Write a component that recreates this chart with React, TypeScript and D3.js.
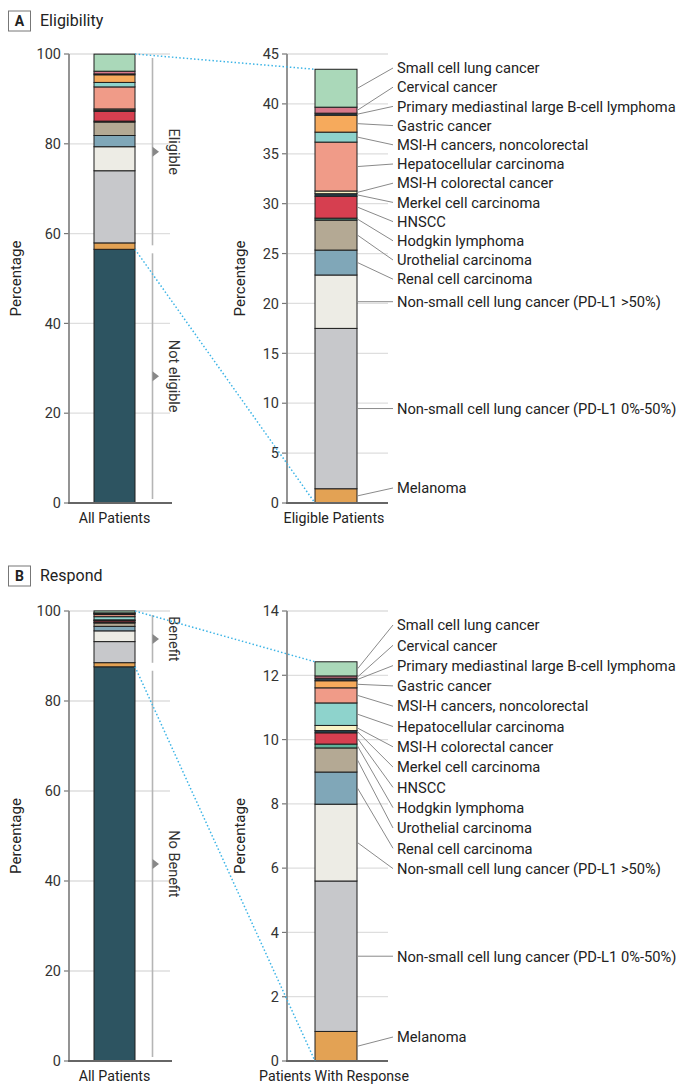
import * as d3 from "d3";

// categories from bottom of the stack to the top
const categories = [
  "Melanoma",
  "Non-small cell lung cancer (PD-L1 0%-50%)",
  "Non-small cell lung cancer (PD-L1 >50%)",
  "Renal cell carcinoma",
  "Urothelial carcinoma",
  "Hodgkin lymphoma",
  "HNSCC",
  "Merkel cell carcinoma",
  "MSI-H colorectal cancer",
  "Hepatocellular carcinoma",
  "MSI-H cancers, noncolorectal",
  "Gastric cancer",
  "Primary mediastinal large B-cell lymphoma",
  "Cervical cancer",
  "Small cell lung cancer",
];

// % of all patients (panel A) – eligible, by tumour type
const eligibleValues = [1.43, 16.07, 5.35, 2.5, 3.0, 0.2, 2.2, 0.25, 0.27, 4.9, 1.0, 1.7, 0.2, 0.6, 3.8];
const notEligible = 56.5;

// % of all patients (panel B) – responders, by tumour type
const responseValues = [0.92, 4.68, 2.39, 1.0, 0.75, 0.12, 0.35, 0.07, 0.16, 0.7, 0.47, 0.22, 0.08, 0.07, 0.44];
const noBenefit = 87.6;

const colorsA = [
  "#e3a254", "#c7c8cb", "#edece5", "#80a7b8", "#b4a994", "#3f8f78", "#d63f50",
  "#25424f", "#fbf3c6", "#f09b88", "#8ed3cc", "#f6aa5c", "#2b3d4a", "#d7798b", "#aad8b9",
];
// in the response panel the salmon / teal pair is swapped in the source figure
const colorsB = [
  "#e3a254", "#c7c8cb", "#edece5", "#80a7b8", "#b4a994", "#5fb39a", "#d63f50",
  "#25424f", "#fbf3c6", "#8ed3cc", "#f09b88", "#f6aa5c", "#2b3d4a", "#d7798b", "#aad8b9",
];
const baseColor = "#2d5461";

const leftTicks = [0, 20, 40, 60, 80, 100];
const rightTicksA = [0, 5, 10, 15, 20, 25, 30, 35, 40, 45];
const rightTicksB = [0, 2, 4, 6, 8, 10, 12, 14];

const FONT = "Roboto, 'Liberation Sans', sans-serif";

// push labels apart (1D cluster dodge)
function dodge(targets: number[], gap: number, lo: number, hi: number): number[] {
  const order = targets.map((_, i) => i).sort((a, b) => targets[a] - targets[b]);
  type C = { items: number[]; sum: number; start: number };
  const place = (c: C) => {
    const n = c.items.length;
    let s = c.sum / n - ((n - 1) * gap) / 2;
    s = Math.max(lo, Math.min(hi - (n - 1) * gap, s));
    c.start = s;
  };
  const clusters: C[] = order.map((i) => ({ items: [i], sum: targets[i], start: targets[i] }));
  clusters.forEach(place);
  let merged = true;
  while (merged) {
    merged = false;
    for (let k = 0; k < clusters.length - 1; k++) {
      const a = clusters[k];
      const b = clusters[k + 1];
      if (a.start + a.items.length * gap > b.start) {
        const c: C = { items: [...a.items, ...b.items], sum: a.sum + b.sum, start: 0 };
        place(c);
        clusters.splice(k, 2, c);
        merged = true;
        break;
      }
    }
  }
  const out: number[] = new Array(targets.length);
  clusters.forEach((c) => c.items.forEach((i, j) => (out[i] = c.start + j * gap)));
  return out;
}

interface PanelProps {
  letter: string;
  title: string;
  titleY: number;
  y0: number;
  yTop: number;
  values: number[];
  base: number;
  colors: string[];
  rightMax: number;
  rightTicks: number[];
  upperLabel: string;
  lowerLabel: string;
  rightXLabel: string;
  gap: number;
  xLabelDy: number;
  labelBottom: number;
}

function Panel(p: PanelProps) {
  const axL = 69;
  const axR = 287;
  const barL = [94, 135];
  const barR = [315, 357];
  const labelX = 397;

  const yL = d3.scaleLinear().domain([0, 100]).range([p.y0, p.yTop]);
  const yR = d3.scaleLinear().domain([0, p.rightMax]).range([p.y0, p.yTop]);

  const leftVals = [p.base, ...p.values];
  const leftColors = [baseColor, ...p.colors];
  const leftCum = d3.cumsum(leftVals);
  const rightCum = d3.cumsum(p.values);
  const total = rightCum[rightCum.length - 1];

  const mids = p.values.map((v, i) => yR(rightCum[i] - v / 2));
  const labelYs = dodge(mids, p.gap, p.yTop + 14, p.y0 - p.labelBottom);

  const bracketX = 152.5;
  const eligTop = yL(100);
  const eligBot = yL(p.base);
  const brackets = [
    { a: eligTop + 4, b: eligBot - 4, label: p.upperLabel },
    { a: eligBot + 4, b: p.y0 - 4, label: p.lowerLabel },
  ];

  const yAxis = (x: number, scale: d3.ScaleLinear<number, number>, ticks: number[], gridTo: number) => (
    <g>
      {ticks.filter((t) => t > 0).map((t) => (
        <line key={"g" + t} x1={x} x2={gridTo} y1={scale(t)} y2={scale(t)} stroke="#dedede" strokeWidth={1.3} />
      ))}
      {ticks.map((t) => (
        <g key={"t" + t}>
          <line x1={x - 5} x2={x} y1={scale(t)} y2={scale(t)} stroke="#777" strokeWidth={1.2} />
          <text x={x - 8} y={scale(t)} dy="0.36em" textAnchor="end" fontSize={14.5} fill="#333">
            {t}
          </text>
        </g>
      ))}
    </g>
  );

  return (
    <g fontFamily={FONT}>
      {/* title */}
      <rect x={8.5} y={p.titleY} width={22} height={20} fill="#fff" stroke="#777" strokeWidth={1} />
      <text x={19.5} y={p.titleY + 15} textAnchor="middle" fontSize={14} fontWeight="bold" fill="#222">
        {p.letter}
      </text>
      <text x={40} y={p.titleY + 15} fontSize={16} fill="#222">
        {p.title}
      </text>

      {/* left chart */}
      {yAxis(axL, yL, leftTicks, 170)}
      {leftVals.map((v, i) => (
        <rect
          key={"l" + i}
          x={barL[0]}
          width={barL[1] - barL[0]}
          y={yL(leftCum[i])}
          height={yL(leftCum[i] - v) - yL(leftCum[i])}
          fill={leftColors[i]}
          stroke="#1e1e1e"
          strokeWidth={1}
        />
      ))}
      <line x1={axL} x2={axL} y1={p.yTop} y2={p.y0} stroke="#888" strokeWidth={1.8} />
      <line x1={axL - 1} x2={172} y1={p.y0} y2={p.y0} stroke="#666" strokeWidth={1.8} />
      {brackets.map((b, i) => {
        const m = (b.a + b.b) / 2;
        return (
          <g key={"b" + i}>
            <line x1={bracketX} x2={bracketX} y1={b.a} y2={b.b} stroke="#b5b5b5" strokeWidth={1.6} />
            <path d={`M${bracketX},${m - 5}L${bracketX + 6.5},${m}L${bracketX},${m + 5}Z`} fill="#888" />
            <text
              transform={`translate(${bracketX + 12},${m}) rotate(90)`}
              textAnchor="middle"
              dy="-0.28em"
              fontSize={14.5}
              fill="#333"
            >
              {b.label}
            </text>
          </g>
        );
      })}
      <text x={21} y={(p.yTop + p.y0) / 2} transform={`rotate(-90,21,${(p.yTop + p.y0) / 2})`} textAnchor="middle" fontSize={15} fill="#222">
        Percentage
      </text>
      <text x={(barL[0] + barL[1]) / 2} y={p.y0 + p.xLabelDy} textAnchor="middle" fontSize={14.2} fill="#222">
        All Patients
      </text>

      {/* right chart */}
      {yAxis(axR, yR, p.rightTicks, 388)}
      {p.values.map((v, i) => (
        <rect
          key={"r" + i}
          x={barR[0]}
          width={barR[1] - barR[0]}
          y={yR(rightCum[i])}
          height={yR(rightCum[i] - v) - yR(rightCum[i])}
          fill={p.colors[i]}
          stroke="#1e1e1e"
          strokeWidth={1}
        />
      ))}
      <line x1={axR} x2={axR} y1={p.yTop} y2={p.y0} stroke="#888" strokeWidth={1.8} />
      <line x1={axR - 1} x2={388} y1={p.y0} y2={p.y0} stroke="#666" strokeWidth={1.8} />
      <text x={245} y={(p.yTop + p.y0) / 2} transform={`rotate(-90,245,${(p.yTop + p.y0) / 2})`} textAnchor="middle" fontSize={15} fill="#222">
        Percentage
      </text>
      <text x={(barR[0] + barR[1]) / 2 - 2} y={p.y0 + p.xLabelDy} textAnchor="middle" fontSize={14.2} fill="#222">
        {p.rightXLabel}
      </text>

      {/* leader lines and labels */}
      {categories.map((c, i) => (
        <g key={"c" + i}>
          <line x1={barR[1] + 0.5} y1={mids[i]} x2={labelX - 4} y2={labelYs[i]} stroke="#8a8a8a" strokeWidth={1} />
          <text x={labelX} y={labelYs[i]} dy="0.36em" fontSize={14.7} fill="#222">
            {c}
          </text>
        </g>
      ))}

      {/* zoom connectors */}
      <line x1={barL[1]} y1={yL(100)} x2={barR[0]} y2={yR(total)} stroke="#3cb4e6" strokeWidth={1.5} strokeDasharray="1.5 2.2" />
      <line x1={barL[1]} y1={yL(p.base)} x2={barR[0]} y2={p.y0} stroke="#3cb4e6" strokeWidth={1.5} strokeDasharray="1.5 2.2" />
    </g>
  );
}

export default function App() {
  return (
    <svg
      width={684}
      height={1085}
      style={{ position: "absolute", left: 0, top: 0, background: "#fff" }}
    >
      <Panel
        letter="A"
        title="Eligibility"
        titleY={11}
        y0={503}
        yTop={54}
        values={eligibleValues}
        base={notEligible}
        colors={colorsA}
        rightMax={45}
        rightTicks={rightTicksA}
        upperLabel="Eligible"
        lowerLabel="Not eligible"
        rightXLabel="Eligible Patients"
        gap={19.2}
        xLabelDy={19.5}
        labelBottom={15}
      />
      <Panel
        letter="B"
        title="Respond"
        titleY={566}
        y0={1061}
        yTop={611}
        values={responseValues}
        base={noBenefit}
        colors={colorsB}
        rightMax={14}
        rightTicks={rightTicksB}
        upperLabel="Benefit"
        lowerLabel="No Benefit"
        rightXLabel="Patients With Response"
        gap={20.3}
        xLabelDy={20.3}
        labelBottom={24}
      />
    </svg>
  );
}
